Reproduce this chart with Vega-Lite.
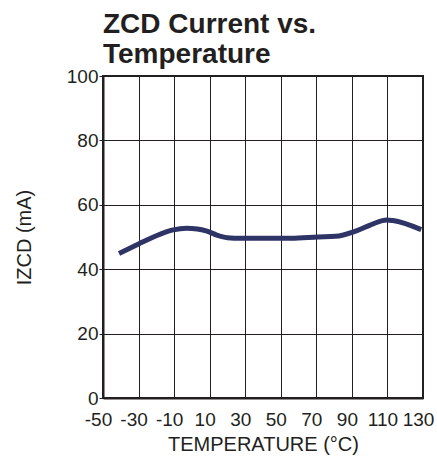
{
  "$schema": "https://vega.github.io/schema/vega-lite/v6.json",
  "width": 320,
  "height": 322,
  "autosize": {"type": "none"},
  "padding": {"left": 103, "top": 76, "right": 14, "bottom": 60},
  "background": "white",
  "title": {
    "text": ["ZCD Current vs.", "Temperature"],
    "anchor": "start",
    "frame": "group",
    "font": "Liberation Sans",
    "fontSize": 28,
    "fontWeight": "bold",
    "lineHeight": 30,
    "color": "#231f20",
    "offset": -2
  },
  "config": {
    "view": {"stroke": "#231f20", "strokeWidth": 2},
    "axis": {
      "labelFont": "Liberation Sans",
      "titleFont": "Liberation Sans",
      "labelFontSize": 19,
      "titleFontSize": 20,
      "titleFontWeight": "normal",
      "labelColor": "#231f20",
      "titleColor": "#231f20",
      "domainColor": "#231f20",
      "domainWidth": 2,
      "gridColor": "#231f20",
      "gridWidth": 1,
      "gridOpacity": 1,
      "tickColor": "#231f20"
    }
  },
  "data": {
    "values": [
      {"t": -41, "i": 44.9},
      {"t": -30, "i": 47.8},
      {"t": -20, "i": 50.4},
      {"t": -10.5, "i": 52.2},
      {"t": -3, "i": 52.7},
      {"t": 3, "i": 52.5},
      {"t": 8.5, "i": 51.8},
      {"t": 14, "i": 50.6},
      {"t": 20, "i": 49.8},
      {"t": 27.5, "i": 49.6},
      {"t": 56, "i": 49.6},
      {"t": 71, "i": 50.0},
      {"t": 80.8, "i": 50.2},
      {"t": 92, "i": 51.8},
      {"t": 102, "i": 54.1},
      {"t": 109.5, "i": 55.3},
      {"t": 113, "i": 55.1},
      {"t": 129, "i": 52.3}
    ]
  },
  "mark": {"type": "line", "color": "#2f3466", "strokeWidth": 5, "interpolate": "monotone", "clip": true},
  "encoding": {
    "x": {
      "field": "t",
      "type": "quantitative",
      "scale": {"domain": [-50, 130], "nice": false, "zero": false},
      "axis": {
        "title": "TEMPERATURE (°C)",
        "values": [-50, -30, -10, 10, 30, 50, 70, 90, 110, 130],
        "labelExpr": "'' + datum.value",
        "tickSize": 0,
        "labelPadding": 12,
        "titlePadding": 5,
        "labelOffset": -5,
        "labelFlush": false,
        "labelOverlap": false
      }
    },
    "y": {
      "field": "i",
      "type": "quantitative",
      "scale": {"domain": [0, 100], "nice": false},
      "axis": {
        "title": "IZCD (mA)",
        "values": [0, 20, 40, 60, 80, 100],
        "tickSize": 4,
        "labelPadding": 1,
        "titlePadding": 32,
        "labelFlush": false
      }
    }
  }
}
